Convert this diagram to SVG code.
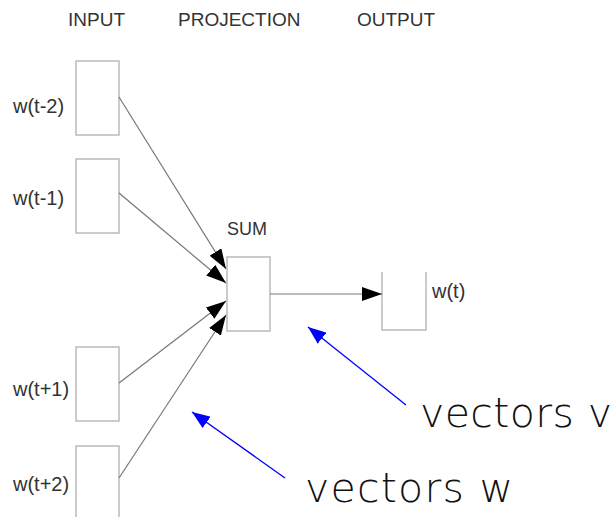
<svg xmlns="http://www.w3.org/2000/svg" width="615" height="517" viewBox="0 0 615 517">
<style>
.hdr{font-family:"Liberation Sans",Arial,sans-serif;font-size:19px;fill:#333}
.lbl{font-family:"Liberation Sans",Arial,sans-serif;font-size:20px;fill:#333}
.box{fill:#fff;stroke:#bbb;stroke-width:1.5}
.edge{fill:none;stroke:#777;stroke-width:1.2}
.blue{fill:none;stroke:#0000ff;stroke-width:1.3}
.big{font-family:"DejaVu Sans",sans-serif;font-weight:200;font-size:41px;fill:#111}
</style>
<defs>
<marker id="ah" markerUnits="userSpaceOnUse" markerWidth="20" markerHeight="14" refX="20" refY="7" orient="auto">
<path d="M0,0 L20,7 L0,14 z" fill="#000"/>
</marker>
<marker id="bh" markerUnits="userSpaceOnUse" markerWidth="18" markerHeight="14" refX="18" refY="7" orient="auto">
<path d="M0,0 L18,7 L0,14 z" fill="#0000ff"/>
</marker>
</defs>
<g id="headers">
<text class="hdr" x="68" y="26">INPUT</text>
<text class="hdr" x="178" y="26">PROJECTION</text>
<text class="hdr" x="357" y="26">OUTPUT</text>
</g>
<g id="in1"><rect class="box" x="76" y="61" width="43" height="74"/><text class="lbl" x="13" y="113">w(t-2)</text></g>
<g id="in2"><rect class="box" x="76" y="159" width="43" height="74"/><text class="lbl" x="13" y="205">w(t-1)</text></g>
<g id="in3"><rect class="box" x="76" y="347" width="43" height="74"/><text class="lbl" x="13" y="396">w(t+1)</text></g>
<g id="in4"><rect class="box" x="76" y="446" width="43" height="80"/><text class="lbl" x="13" y="491">w(t+2)</text></g>
<g id="sum"><rect class="box" x="227" y="257" width="43" height="74"/><text class="hdr" x="227" y="235" style="font-size:18px">SUM</text></g>
<g id="out"><path class="box" d="M382,272 V330 H426 V272" fill="none"/><text class="lbl" x="432" y="298">w(t)</text></g>
<g id="connectors">
<line class="edge" x1="119" y1="97" x2="226" y2="269" marker-end="url(#ah)"/>
<line class="edge" x1="119" y1="193" x2="226" y2="283" marker-end="url(#ah)"/>
<line class="edge" x1="119" y1="383" x2="226" y2="301" marker-end="url(#ah)"/>
<line class="edge" x1="119" y1="478" x2="226" y2="315" marker-end="url(#ah)"/>
<line class="edge" x1="270" y1="294" x2="382" y2="294" marker-end="url(#ah)"/>
</g>
<g id="annotations">
<line class="blue" x1="406" y1="405" x2="308" y2="327" marker-end="url(#bh)"/>
<line class="blue" x1="285" y1="478" x2="192" y2="412" marker-end="url(#bh)"/>
<text class="big" x="420" y="427" textLength="192" lengthAdjust="spacing">vectors v</text>
<text class="big" x="305" y="502" textLength="208" lengthAdjust="spacing">vectors w</text>
</g>
</svg>
